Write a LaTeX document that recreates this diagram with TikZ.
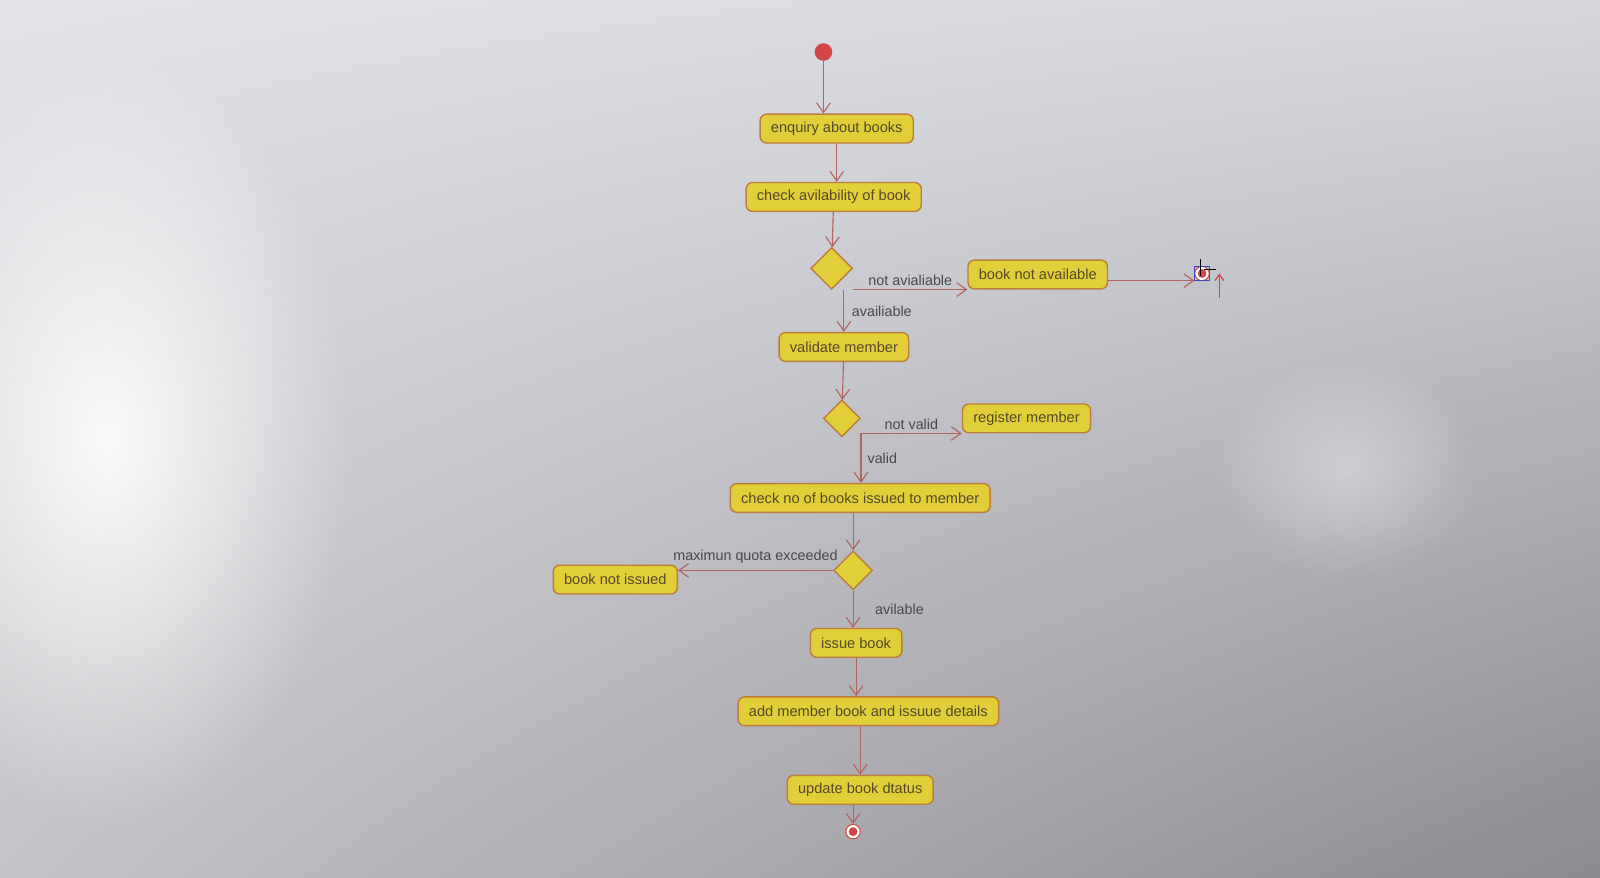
\documentclass[tikz,border=0pt]{standalone}
\usepackage{fontspec}
\setmainfont{Liberation Sans}
\usetikzlibrary{shapes.geometric,arrows.meta,fadings,shadings}

\definecolor{actfill}{RGB}{226,206,56}
\definecolor{actline}{RGB}{188,126,58}
\definecolor{flowline}{RGB}{178,100,96}
\definecolor{actink}{RGB}{84,74,40}
\definecolor{guardink}{RGB}{72,72,76}
\definecolor{startred}{RGB}{212,70,72}
\definecolor{selblue}{RGB}{70,70,190}
\definecolor{screenul}{RGB}{226,227,231}
\definecolor{screenur}{RGB}{214,216,222}
\definecolor{screenll}{RGB}{196,196,200}
\definecolor{screenlr}{RGB}{138,138,144}

\tikzfading[name=glow, inner color=transparent!0, outer color=transparent!100]

\tikzset{
	action/.style={draw=actline, fill=actfill, rounded corners=0.16cm, line width=1pt,
		inner xsep=0.27cm, minimum height=0.72cm, text=actink, font=\fontsize{10.4}{12}\selectfont},
	decision/.style={diamond, draw=actline, fill=actfill, line width=1pt,
		minimum width=1.05cm, minimum height=1.05cm, inner sep=0pt},
	initial/.style={circle, fill=startred, minimum size=0.44cm, inner sep=0pt},
	final/.style={circle, draw=startred, fill=white, line width=0.7pt, minimum size=0.36cm, inner sep=0pt,
		path picture={\fill[startred] (path picture bounding box.center) circle (0.11cm);}},
	flow/.style={draw=flowline, line width=0.8pt, -{Straight Barb[length=2.4mm, width=3.4mm]}},
	guard/.style={text=guardink, font=\fontsize{10.2}{12}\selectfont},
}

\begin{document}
\begin{tikzpicture}[x=0.02551cm, y=-0.02551cm]
	\useasboundingbox (0,0) rectangle (1568,860);

	% screen background
	\shade[upper left=screenul, upper right=screenur, lower left=screenll, lower right=screenlr]
		(0,0) rectangle (1568,860);
	\begin{scope}
		\clip (0,0) rectangle (1568,860);
		\fill[white, opacity=0.9, path fading=glow] (105,430) ellipse (240 and 380);
		\fill[white, opacity=0.35, path fading=glow] (1320,460) ellipse (130 and 110);
	\end{scope}

	\node[initial] (start) at (807,51) {};
	\node[action] (enquiry) at (820,126) {enquiry about books};
	\node[action] (check) at (817,193) {check avilability of book};
	\node[decision] (d1) at (815,263) {};
	\node[action] (bna) at (1017,269) {book not available};
	\node[final] (end1) at (1178,268) {};
	\node[action] (validate) at (827,340) {validate member};
	\node[decision, minimum width=0.92cm, minimum height=0.92cm] (d2) at (825,410) {};
	\node[action] (register) at (1006,410) {register member};
	\node[action] (checkno) at (843,488) {check no of books issued to member};
	\node[decision, minimum width=0.97cm, minimum height=0.97cm] (d3) at (836,559) {};
	\node[action] (bni) at (603,568) {book not issued};
	\node[action] (issue) at (839,630) {issue book};
	\node[action] (add) at (851,697) {add member book and issuue details};
	\node[action] (update) at (843,774) {update book dtatus};
	\node[final] (end2) at (836,815) {};

	% selection marks round the first final node
	\draw[selblue, line width=0.7pt] (1171,261) rectangle (1185,275);
	\draw[black, line width=0.5pt] (1176,254) -- ++(0,16) (1180,264) -- ++(12,0);
	\draw[startred, line width=0.9pt, -{Straight Barb[length=1.5mm, width=2.2mm]}] (1195,292) -- ++(0,-24);

	\draw[flow] (start.south) -- (start.south |- enquiry.north);
	\draw[flow] (enquiry.south) -- (enquiry.south |- check.north);
	\draw[flow] (check) -- (d1);
	\draw[flow] (d1.east |- bna.south) -- (bna.south west)
		node[guard, midway, above, yshift=-1pt] {not avialiable};
	\draw[flow] (bna.east |- 0,275) -- (end1.west |- 0,275);
	\draw[flow] (validate.north |- d1.south) -- (validate.north)
		node[guard, midway, right, xshift=2pt] {availiable};
	\draw[flow] (validate) -- (d2);
	\draw[flow] (d2.east |- register.south) -- (register.south west)
		node[guard, midway, above, yshift=-1pt] {not valid};
	\draw[flow] (d2.east |- register.south) -- (d2.east |- checkno.north)
		node[guard, midway, right, xshift=1pt] {valid};
	\draw[flow] (d3.north |- checkno.south) -- (d3.north);
	\draw[flow] (d3.west) -- (d3.west -| bni.east)
		node[guard, midway, above, yshift=1pt] {maximun quota exceeded};
	\draw[flow] (d3.south) -- (d3.south |- issue.north)
		node[guard, midway, right, xshift=12pt] {avilable};
	\draw[flow] (issue.south) -- (issue.south |- add.north);
	\draw[flow] (update.north |- add.south) -- (update.north);
	\draw[flow] (end2 |- update.south) -- (end2);
\end{tikzpicture}
\end{document}
